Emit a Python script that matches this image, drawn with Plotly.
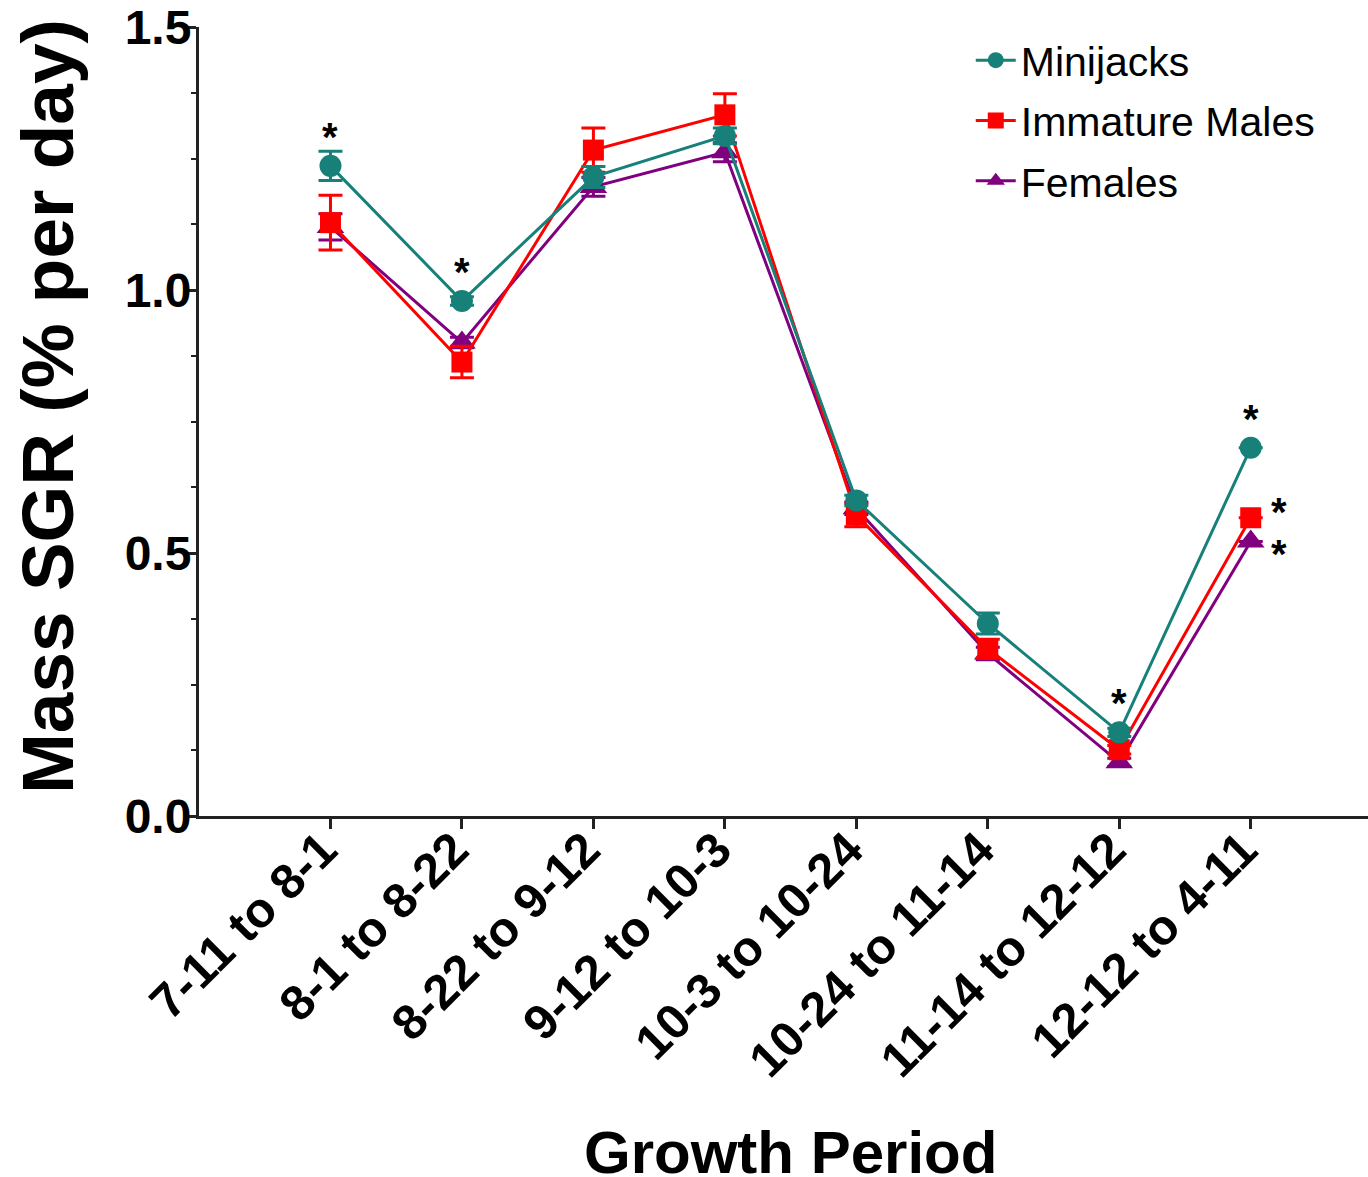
import plotly.graph_objects as go

# ---------------- data ----------------
periods = ["7-11 to 8-1", "8-1 to 8-22", "8-22 to 9-12", "9-12 to 10-3",
           "10-3 to 10-24", "10-24 to 11-14", "11-14 to 12-12", "12-12 to 4-11"]

minijacks = [1.236, 0.979, 1.215, 1.293, 0.600, 0.366, 0.159, 0.700]
minijacks_err = [0.028, 0.008, 0.020, 0.015, 0.010, 0.020, 0.008, 0.0]

immature_males = [1.128, 0.863, 1.266, 1.333, 0.572, 0.318, 0.126, 0.567]
immature_males_err = [0.052, 0.030, 0.042, 0.040, 0.022, 0.018, 0.008, 0.0]

females = [1.120, 0.900, 1.196, 1.262, 0.585, 0.309, 0.102, 0.522]
females_err = [0.025, 0.010, 0.018, 0.018, 0.012, 0.012, 0.008, 0.0]

# significance marks: period indices per series
sig_minijacks = [0, 1, 6, 7]
sig_immature_males = [7]
sig_females = [7]

y_ticks = [0.0, 0.5, 1.0, 1.5]
y_tick_labels = ["0.0", "0.5", "1.0", "1.5"]

x_title = "Growth Period"
y_title = "Mass SGR (% per day)"

# ---------------- style ----------------
TEAL = "#168079"
RED = "#FF0000"
PURPLE = "#800080"
FONT = "Liberation Sans, Arial, sans-serif"
W, H = 1368, 1177
L, R, T, B = 199, 0, 27, 361
PH = H - T - B
PW = W - L - R

x = list(range(len(periods)))

fig = go.Figure()

series = [
    ("Females", females, females_err, PURPLE, "triangle-up", 24, 3),
    ("Immature Males", immature_males, immature_males_err, RED, "square", 21, 2),
    ("Minijacks", minijacks, minijacks_err, TEAL, "circle", 22, 1),
]
for name, vals, errs, col, sym, ms, rank in series:
    fig.add_trace(go.Scatter(
        x=x, y=vals, name=name, mode="lines+markers", legendgroup=name,
        legendrank=rank,
        line=dict(color=col, width=3),
        marker=dict(color=col, symbol=sym, size=ms),
        error_y=dict(type="data", array=errs, visible=True,
                     color=col, thickness=3, width=12),
    ))

star_font = dict(family=FONT, size=40, color="black", weight="bold")
annos = []
for i in sig_minijacks:
    annos.append(dict(x=i, y=minijacks[i], xref="x", yref="y", text="*",
                      showarrow=False, yshift=29, xshift=0, font=star_font))
for i in sig_immature_males:
    annos.append(dict(x=i, y=immature_males[i], xref="x", yref="y", text="*",
                      showarrow=False, yshift=6, xshift=28, font=star_font))
for i in sig_females:
    annos.append(dict(x=i, y=females[i], xref="x", yref="y", text="*",
                      showarrow=False, yshift=-13, xshift=28, font=star_font))

# axis titles
annos.append(dict(text=x_title, xref="paper", yref="paper",
                  x=(790 - L) / PW, y=(T + PH - 1152) / PH,
                  xanchor="center", yanchor="middle", showarrow=False,
                  font=dict(family=FONT, size=60, color="black", weight="bold")))
annos.append(dict(text=y_title, xref="paper", yref="paper", textangle=-90,
                  x=(47 - L) / PW, y=(T + PH - 407) / PH,
                  xanchor="center", yanchor="middle", showarrow=False,
                  font=dict(family=FONT, size=73, color="black", weight="bold")))

fig.update_layout(
    width=W, height=H,
    margin=dict(l=L, r=R, t=T, b=B, autoexpand=False),
    plot_bgcolor="white", paper_bgcolor="white",
    font=dict(family=FONT, color="black"),
    showlegend=True,
    legend=dict(x=0.6602, y=1.0, xanchor="left", yanchor="top",
                traceorder="grouped", tracegroupgap=4,
                font=dict(family=FONT, size=41, color="black"),
                bgcolor="rgba(0,0,0,0)", itemwidth=40),
    annotations=annos,
    xaxis=dict(
        range=[-1.0, 7.892], tickmode="array", tickvals=x, ticktext=periods,
        tickangle=-45, ticks="outside", ticklen=10, tickwidth=3, tickcolor="#222",
        ticklabelstandoff=-28, ticklabelshift=-8, automargin=False,
        showline=True, linewidth=3, linecolor="#222", showgrid=False, zeroline=False,
        tickfont=dict(family=FONT, size=49, color="black", weight="bold"),
    ),
    yaxis=dict(
        range=[0, 1.5], tickmode="array", tickvals=y_ticks, ticktext=y_tick_labels,
        ticks="outside", ticklen=9, tickwidth=3, tickcolor="#222",
        ticklabelstandoff=-14, automargin=False,
        minor=dict(dtick=0.125, ticks="outside", ticklen=5, tickwidth=2, tickcolor="#222"),
        showline=True, linewidth=3, linecolor="#222", showgrid=False, zeroline=False,
        tickfont=dict(family=FONT, size=48, color="black", weight="bold"),
    ),
)

fig.write_html("out.html",
               config={"displayModeBar": False},
               post_script="document.body.style.margin='0px';"
                           "document.body.style.overflow='hidden';")
